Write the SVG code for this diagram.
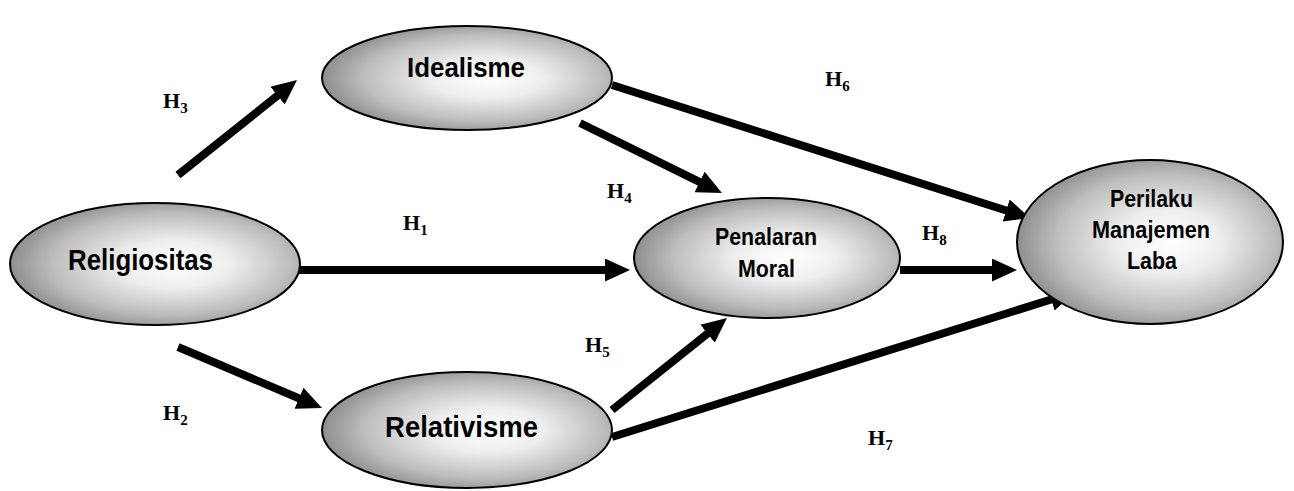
<svg xmlns="http://www.w3.org/2000/svg" width="1294" height="491" viewBox="0 0 1294 491">
  <defs>
    <style>
      .node { stroke: #000; stroke-width: 2; fill: url(#g); }
      .nt { font-family: "Liberation Sans", Arial, sans-serif; font-weight: bold; fill: #000; text-anchor: middle; }
      .lbl { font-family: "Liberation Serif", "Times New Roman", serif; font-weight: bold; font-size: 22px; fill: #000; }
      .sub { font-size: 15px; }
      .edge { stroke: #000; stroke-width: 8; fill: none; marker-end: url(#ah); }
    </style>
    <radialGradient id="g" cx="0.55" cy="0.5" r="0.55" fx="0.58" fy="0.5">
      <stop offset="0" stop-color="#ffffff"/>
      <stop offset="0.35" stop-color="#eeeeee"/>
      <stop offset="0.75" stop-color="#bdbdbd"/>
      <stop offset="1" stop-color="#8e8e8e"/>
    </radialGradient>
    <marker id="ah" markerUnits="userSpaceOnUse" viewBox="0 0 25 23" markerWidth="25" markerHeight="23" refX="10" refY="11.5" orient="auto">
      <path d="M0,0 L25,11.5 L0,23 z" fill="#000"/>
    </marker>
  </defs>
  <rect width="1294" height="491" fill="#fff"/>

  <g id="connectors">
    <line class="edge" x1="178" y1="175" x2="285.3" y2="89.4"/>
    <line class="edge" x1="297" y1="270" x2="615" y2="270"/>
    <line class="edge" x1="178" y1="347" x2="308.2" y2="402.2"/>
    <line class="edge" x1="580" y1="123" x2="708.5" y2="186.4"/>
    <line class="edge" x1="612" y1="85" x2="1015.7" y2="213.5"/>
    <line class="edge" x1="900" y1="270" x2="1002" y2="270"/>
    <line class="edge" x1="612" y1="410" x2="715.3" y2="327.4"/>
    <line class="edge" x1="612" y1="437" x2="1060.7" y2="296.5"/>
  </g>

  <g id="labels">
    <text class="lbl" x="163" y="108">H<tspan class="sub" dy="5">3</tspan></text>
    <text class="lbl" x="403" y="230">H<tspan class="sub" dy="5">1</tspan></text>
    <text class="lbl" x="163" y="420">H<tspan class="sub" dy="5">2</tspan></text>
    <text class="lbl" x="607" y="198">H<tspan class="sub" dy="5">4</tspan></text>
    <text class="lbl" x="825" y="86">H<tspan class="sub" dy="5">6</tspan></text>
    <text class="lbl" x="922" y="240">H<tspan class="sub" dy="5">8</tspan></text>
    <text class="lbl" x="585" y="352">H<tspan class="sub" dy="5">5</tspan></text>
    <text class="lbl" x="868" y="445">H<tspan class="sub" dy="5">7</tspan></text>
  </g>

  <g id="religiositas">
    <ellipse class="node" cx="155" cy="264" rx="145" ry="61"/>
    <text class="nt" x="140.5" y="270" font-size="29" textLength="145" lengthAdjust="spacingAndGlyphs">Religiositas</text>
  </g>
  <g id="idealisme">
    <ellipse class="node" cx="467" cy="78" rx="145" ry="52"/>
    <text class="nt" x="466" y="77" font-size="28" textLength="118" lengthAdjust="spacingAndGlyphs">Idealisme</text>
  </g>
  <g id="relativisme">
    <ellipse class="node" cx="467" cy="430" rx="145" ry="58"/>
    <text class="nt" x="461.5" y="437" font-size="30" textLength="153" lengthAdjust="spacingAndGlyphs">Relativisme</text>
  </g>
  <g id="penalaran-moral">
    <ellipse class="node" cx="767" cy="258" rx="133" ry="60"/>
    <text class="nt" x="766" y="245" font-size="24" textLength="102" lengthAdjust="spacingAndGlyphs">Penalaran</text>
    <text class="nt" x="766.5" y="277" font-size="24" textLength="57" lengthAdjust="spacingAndGlyphs">Moral</text>
  </g>
  <g id="perilaku-manajemen-laba">
    <ellipse class="node" cx="1150" cy="242" rx="133" ry="82"/>
    <text class="nt" x="1151.5" y="207" font-size="24" textLength="83" lengthAdjust="spacingAndGlyphs">Perilaku</text>
    <text class="nt" x="1151" y="238" font-size="24" textLength="118" lengthAdjust="spacingAndGlyphs">Manajemen</text>
    <text class="nt" x="1152" y="269" font-size="24" textLength="50" lengthAdjust="spacingAndGlyphs">Laba</text>
  </g>
</svg>
